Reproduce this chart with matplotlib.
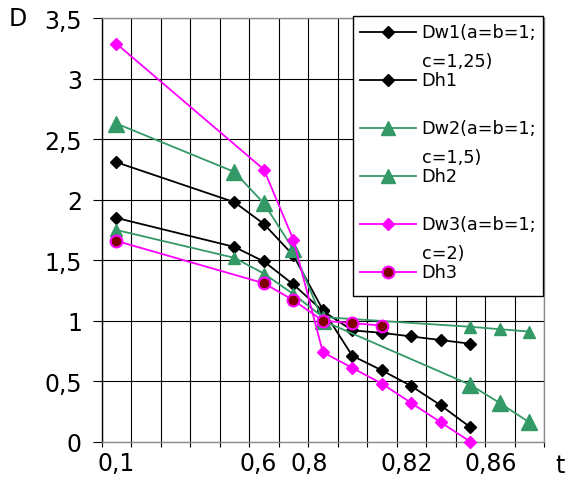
import numpy as np
import matplotlib
matplotlib.use("Agg")
import matplotlib.pyplot as plt
from matplotlib.lines import Line2D
from matplotlib.patches import Rectangle

nan = np.nan

# 15 categories along t; only some carry a label
n_cat = 15
tick_pos = [0, 4.8, 6.53, 9.85, 12.7]
tick_labels = ["0,1", "0,6", "0,8", "0,82", "0,86"]

Dw1 = [2.31, nan, nan, nan, 1.98, 1.80, 1.54, 1.09, 0.71, 0.59, 0.46, 0.30, 0.12, nan, nan]
Dh1 = [1.85, nan, nan, nan, 1.61, 1.49, 1.30, 1.08, 0.92, 0.90, 0.87, 0.84, 0.81, nan, nan]
Dw2 = [2.63, nan, nan, nan, 2.23, 1.97, 1.59, 1.00, nan, nan, nan, nan, 0.47, 0.32, 0.16]
Dh2 = [1.75, nan, nan, nan, 1.52, 1.39, 1.22, 1.03, nan, nan, nan, nan, 0.95, 0.93, 0.91]
Dw3 = [3.29, nan, nan, nan, nan, 2.25, 1.67, 0.74, 0.61, 0.48, 0.32, 0.16, 0.00, nan, nan]
Dh3 = [1.66, nan, nan, nan, nan, 1.31, 1.17, 1.00, 0.98, 0.96, nan, nan, nan, nan, nan]

labels = ["Dw1(a=b=1;\nc=1,25)", "Dh1", "Dw2(a=b=1;\nc=1,5)", "Dh2",
          "Dw3(a=b=1;\nc=2)", "Dh3"]

green = "#339966"
magenta = "#FF00FF"
styles = [
    dict(color="black", marker="D", ms=6, mfc="black", mec="black", mew=1),
    dict(color="black", marker="D", ms=6, mfc="black", mec="black", mew=1),
    dict(color=green, marker="^", ms=12, mfc=green, mec=green, mew=1),
    dict(color=green, marker="^", ms=9, mfc=green, mec=green, mew=1),
    dict(color=magenta, marker="D", ms=6.5, mfc=magenta, mec=magenta, mew=1),
    dict(color=magenta, marker="o", ms=8.5, mfc="#800000", mec=magenta, mew=1.5),
]
legend_ms = [6, 6, 10, 10, 6.5, 8.5]

plt.rcParams["font.family"] = "DejaVu Sans"

W, H = 569, 481
fig = plt.figure(figsize=(W / 100, H / 100), dpi=100)

def fx(px):
    return px / W

def fy(py):
    return 1 - py / H

left, right, top, bottom = 101.7, 544, 19.3, 442.7
ax = fig.add_axes([fx(left), fy(bottom), fx(right) - fx(left), fy(top) - fy(bottom)])

x = np.arange(n_cat)
for vals, st in zip([Dw1, Dh1, Dw2, Dh2, Dw3, Dh3], styles):
    v = np.array(vals, dtype=float)
    m = ~np.isnan(v)
    ax.plot(x[m], v[m], lw=1.3, clip_on=False, zorder=3, **st)

ax.set_xlim(-0.5, n_cat - 0.5)
ax.set_ylim(0, 3.5)

# major ticks on category borders (grid), minor ticks carry the labels
ax.set_xticks(np.arange(-0.5, n_cat, 1.0))
ax.set_xticklabels([])
ax.set_xticks(tick_pos, minor=True)
ax.set_xticklabels(tick_labels, minor=True, fontsize=17)
ax.tick_params(axis="x", which="major", direction="out", length=3.5,
               width=0.8, color="black")
ax.tick_params(axis="x", which="minor", length=0, pad=7)

yt = np.arange(0, 3.51, 0.5)
ax.set_yticks(yt)
ax.set_yticklabels([("%g" % v).replace(".", ",") for v in yt], fontsize=17)
ax.tick_params(axis="y", direction="out", length=6.3, width=0.8, pad=8)

ax.grid(True, which="major", color="black", lw=0.8, zorder=1)
ax.set_axisbelow(True)

for s in ["top", "right", "bottom"]:
    ax.spines[s].set_color("#8c8c8c")
    ax.spines[s].set_linewidth(1)
ax.spines["left"].set_color("black")
ax.spines["left"].set_linewidth(1)

fig.text(fx(18), fy(19), "D", fontsize=17, ha="center", va="center")
fig.text(fx(560), fy(466), "t", fontsize=17, ha="center", va="center")

# legend box drawn by hand so each handle sits on the first label line
box = Rectangle((fx(353.3), fy(296.7)), fx(543.3) - fx(353.3), fy(17.3) - fy(296.7),
                transform=fig.transFigure, facecolor="white", edgecolor="black",
                lw=1, zorder=5)
fig.add_artist(box)
for i, (lab, st) in enumerate(zip(labels, styles)):
    yc = 33.3 + 48 * i
    st2 = dict(st)
    st2["ms"] = legend_ms[i]
    ln = Line2D([fx(360), fx(388), fx(416)], [fy(yc)] * 3, lw=1.3,
                markevery=[1], transform=fig.transFigure, zorder=6, **st2)
    fig.add_artist(ln)
    for k, part in enumerate(lab.split("\n")):
        fig.text(fx(421.7), fy(yc + 28.4 * k), part, fontsize=12.7,
                 ha="left", va="center", zorder=6)

fig.savefig("out.png", dpi=100)
